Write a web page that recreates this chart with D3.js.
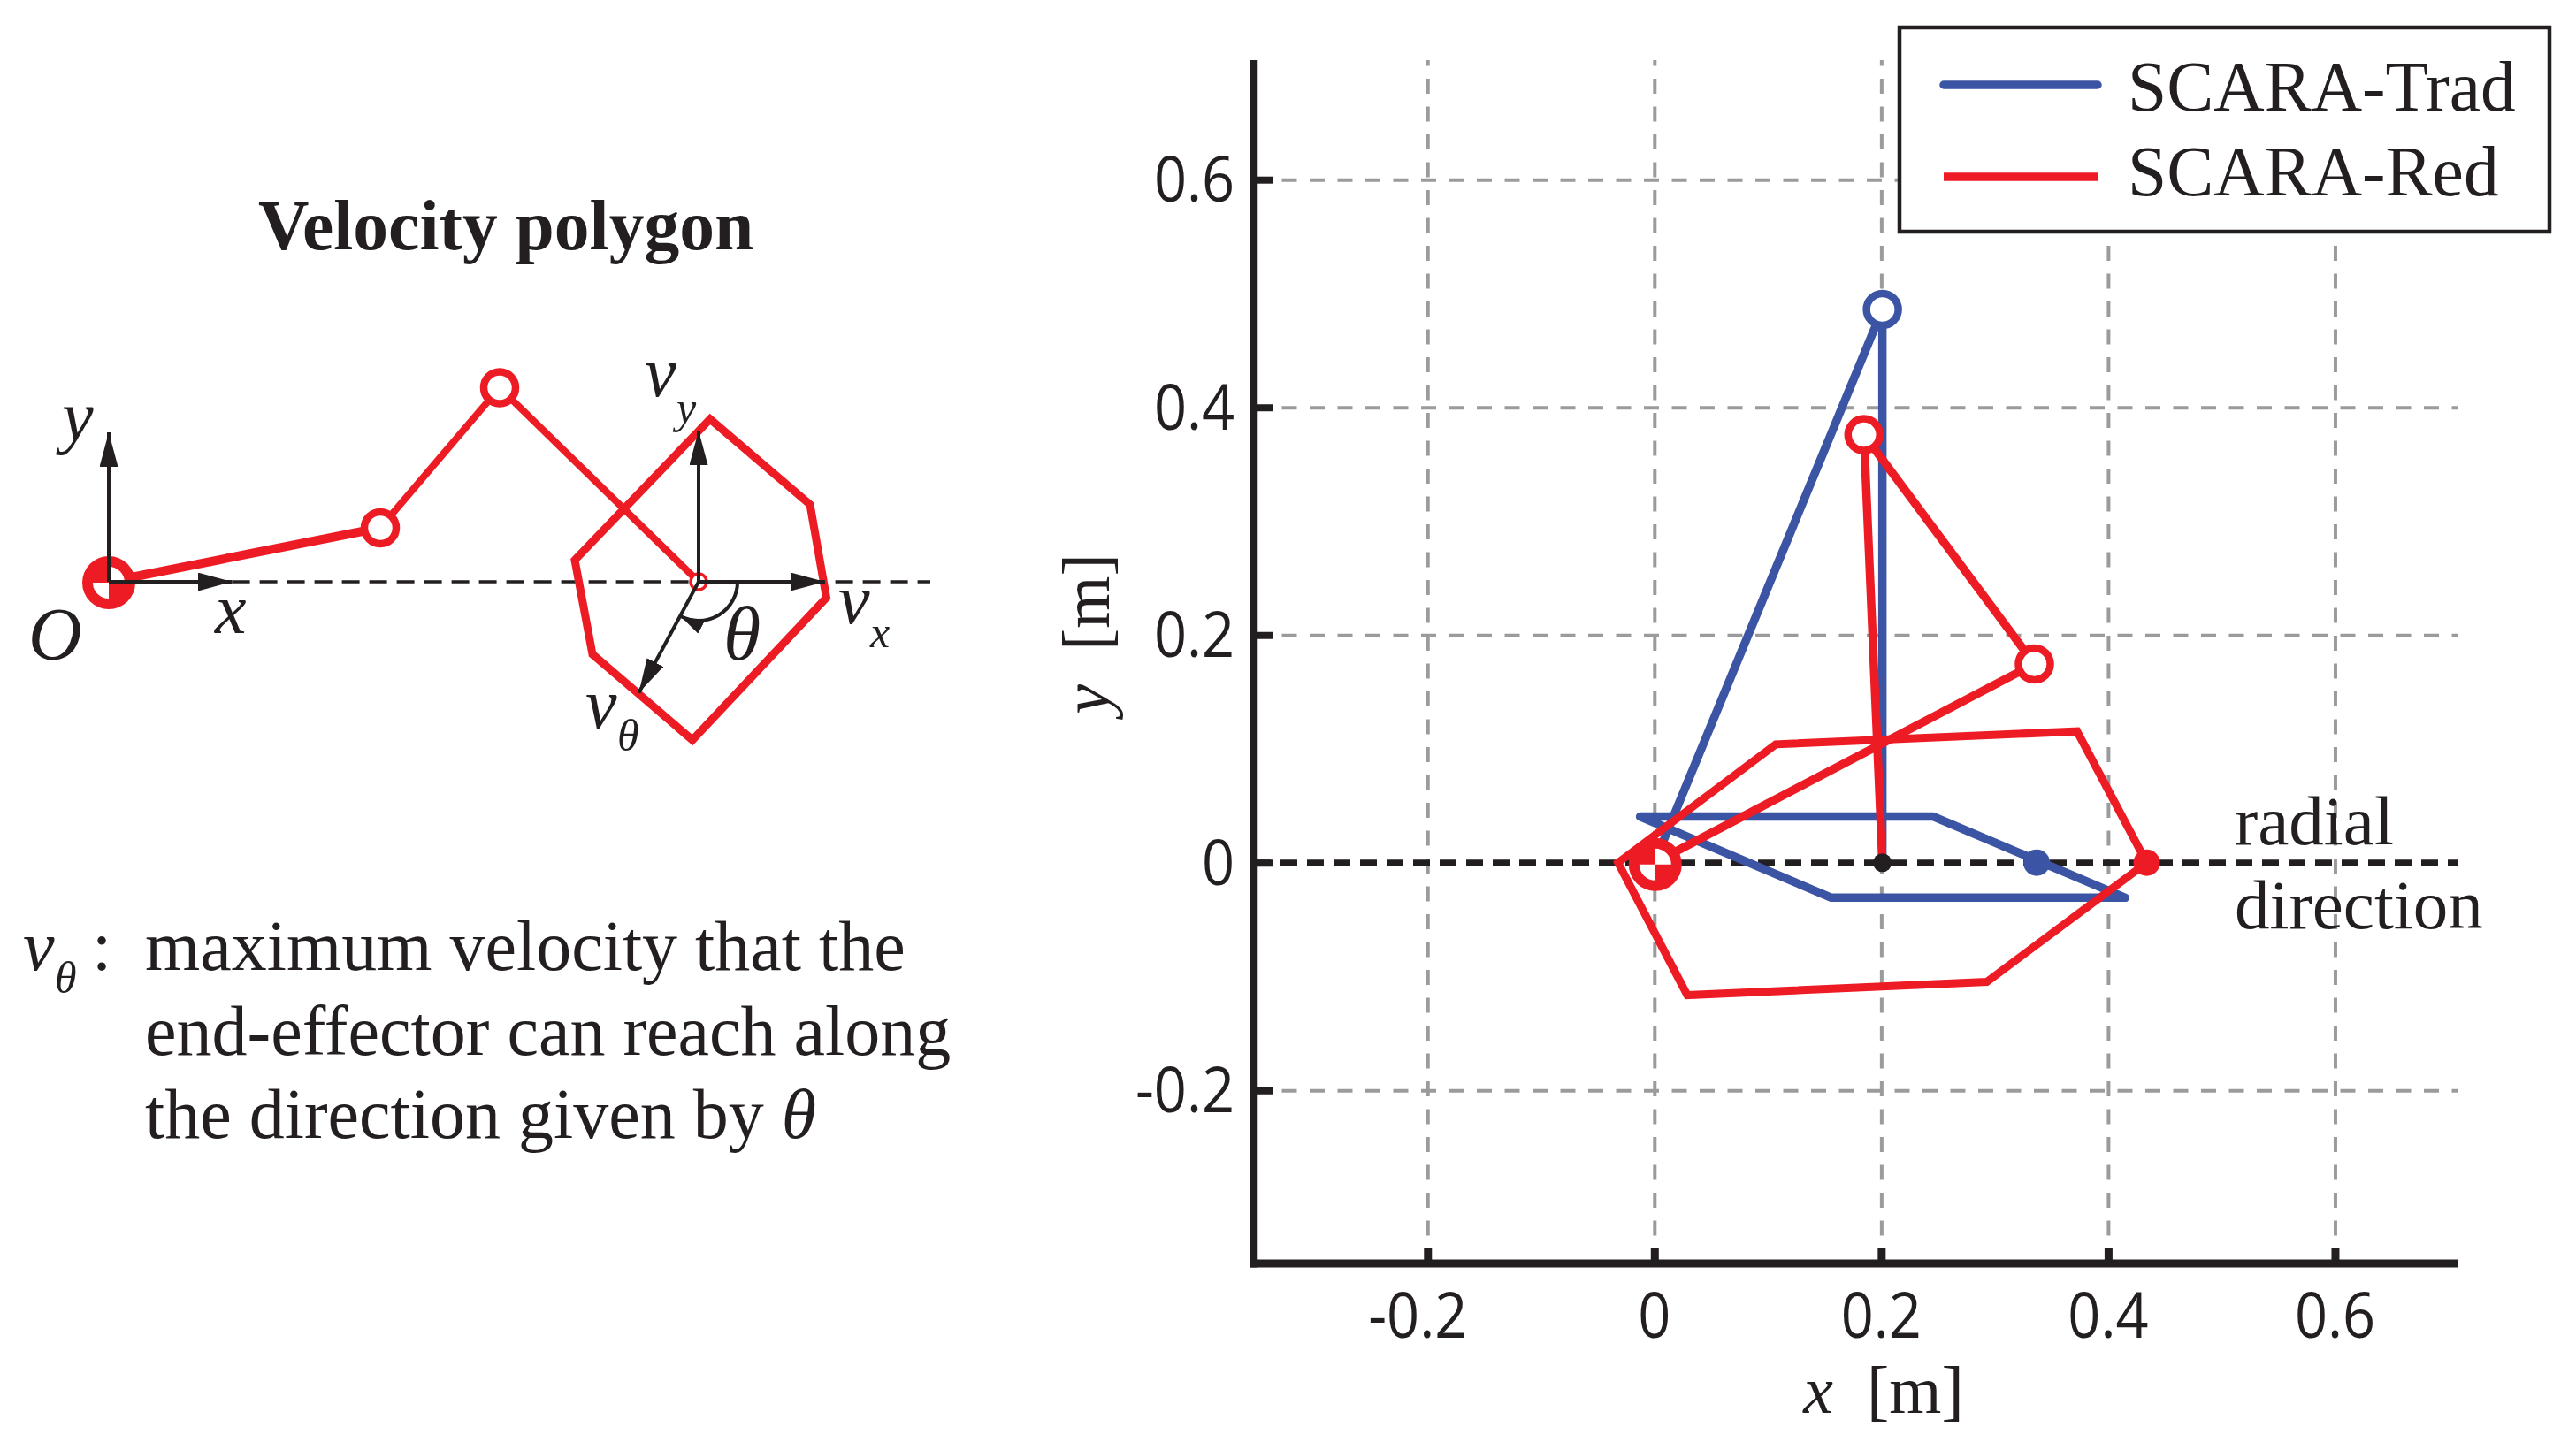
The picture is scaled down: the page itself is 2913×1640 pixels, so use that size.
<!DOCTYPE html>
<html>
<head>
<meta charset="utf-8">
<script src="https://cdnjs.cloudflare.com/ajax/libs/d3/7.8.5/d3.min.js"></script>
<style>
  body { margin: 0; background: #fff; }
  text { fill: #231F20; font-family: "Liberation Serif", serif; }
  .tick-label { font-family: "Open Sans", sans-serif; }
</style>
</head>
<body>
<svg id="fig" width="2913" height="1640"></svg>
<script>
// ---- data ----
var xTicks = [-0.2, 0, 0.2, 0.4, 0.6];
var yTicks = [-0.2, 0, 0.2, 0.4, 0.6];
var legendNames = ["SCARA-Trad", "SCARA-Red"];

// right plot, metres
var tradArm = [[0, 0], [0.201, 0.486], [0.201, 0]];
var tradPolygon = [[-0.0126, 0.0405], [0.246, 0.0405], [0.415, -0.0307], [0.156, -0.0307]];
var tradRadial = [0.337, 0];
var redArm = [[0, 0], [0.335, 0.1746], [0.1847, 0.376], [0.201, 0]];
var redPolygon = [[-0.032, 0], [0.107, 0.104], [0.3726, 0.1154], [0.434, 0], [0.293, -0.1047], [0.029, -0.1163]];
var redRadial = [0.434, 0];
var endEffector = [0.201, 0];

// left sketch, arbitrary units
var sketchArm = [[0, 0], [0.307, 0.061], [0.442, 0.2195], [0.667, 0]];
var sketchPolygon = [[0.68, 0.184], [0.793, 0.0874], [0.8115, -0.018], [0.66, -0.179], [0.547, -0.082], [0.527, 0.0245]];
var sketchDashEnd = 0.929;
var sketchAxes = [[[0, 0], [0.1396, 0]], [[0, 0], [0, 0.169]]];
var sketchVel = [[[0.667, 0], [0.81, 0]], [[0.667, 0], [0.667, 0.171]], [[0.667, 0], [0.5994, -0.1255]]];
var thetaDeg = 118;

var paragraph = ["maximum velocity that the", "end-effector can reach along", "the direction given by "];

// ---- setup ----
var RED = "#ED1C24", BLUE = "#3B54A4", INK = "#231F20", GREY = "#9B9B9D";
var svg = d3.select("#fig");

var x = d3.scaleLinear().domain([-0.353, 0.708]).range([1418, 2779]);
var y = d3.scaleLinear().domain([-0.352, 0.705]).range([1429, 68]);
var lx = d3.scaleLinear().domain([0, 1]).range([123, 1123]);
var ly = d3.scaleLinear().domain([0, 1]).range([658, -342]);

var defs = svg.append("defs");
function arrowHead(id, len, h) {
  defs.append("marker").attr("id", id).attr("markerUnits", "userSpaceOnUse")
    .attr("markerWidth", len).attr("markerHeight", h)
    .attr("refX", len).attr("refY", h / 2).attr("orient", "auto")
    .append("path").attr("d", "M0,0L" + len + "," + (h / 2) + "L0," + h + "Z").attr("fill", INK);
}
arrowHead("arrow", 39, 21);
arrowHead("arrowSmall", 27, 16);

function label(parts, px, py, size, anchor) {
  var t = svg.append("text").attr("x", px).attr("y", py).attr("font-size", size)
    .attr("text-anchor", anchor || "start");
  parts.forEach(function (p) {
    t.append("tspan").attr("font-style", p[1] ? "italic" : "normal").text(p[0]);
  });
  return t;
}

function baseMark(cx, cy) {
  var g = svg.append("g").attr("transform", "translate(" + cx + "," + cy + ")");
  g.append("circle").attr("r", 30).attr("fill", RED);
  var wedge = d3.arc().innerRadius(0).outerRadius(18);
  [[0, Math.PI / 2], [Math.PI, Math.PI * 1.5]].forEach(function (a) {
    g.append("path").attr("d", wedge({ startAngle: a[0], endAngle: a[1] })).attr("fill", "#fff");
  });
}

function joint(cx, cy, color) {
  svg.append("circle").attr("cx", cx).attr("cy", cy).attr("r", 18)
    .attr("fill", "#fff").attr("stroke", color).attr("stroke-width", 8.5);
}

// ---- right plot ----
var line = d3.line().x(function (d) { return x(d[0]); }).y(function (d) { return y(d[1]); });
var loop = d3.line().x(function (d) { return x(d[0]); }).y(function (d) { return y(d[1]); }).curve(d3.curveLinearClosed);

// grid
var gridX = svg.append("g").attr("transform", "translate(0," + y.range()[0] + ")")
  .call(d3.axisBottom(x).tickValues(xTicks).tickSize(y.range()[1] - y.range()[0]).tickFormat(""));
gridX.select(".domain").remove();
gridX.selectAll("line").attr("stroke", GREY).attr("stroke-width", 4).attr("stroke-dasharray", "17 14.5");
var gridY = svg.append("g").attr("transform", "translate(" + x.range()[0] + ",0)")
  .call(d3.axisLeft(y).tickValues(yTicks.filter(function (v) { return v !== 0; })).tickSize(x.range()[0] - x.range()[1]).tickFormat(""));
gridY.select(".domain").remove();
gridY.selectAll("line").attr("stroke", GREY).attr("stroke-width", 4).attr("stroke-dasharray", "17 14.5");

// radial direction
svg.append("path").attr("d", line([[x.domain()[0], 0], [x.domain()[1], 0]]))
  .attr("stroke", INK).attr("stroke-width", 7).attr("stroke-dasharray", "19 11").attr("fill", "none");

// axes
var xAxis = svg.append("g").attr("transform", "translate(0," + y.range()[0] + ")")
  .call(d3.axisTop(x).tickValues(xTicks).tickSize(18).tickFormat(""));
xAxis.select(".domain").remove();
xAxis.selectAll("line").attr("stroke", INK).attr("stroke-width", 9);
var yAxis = svg.append("g").attr("transform", "translate(" + x.range()[0] + ",0)")
  .call(d3.axisRight(y).tickValues(yTicks).tickSize(22).tickFormat(""));
yAxis.select(".domain").remove();
yAxis.selectAll("line").attr("stroke", INK).attr("stroke-width", 8);
svg.append("line").attr("x1", x.range()[0]).attr("x2", x.range()[0]).attr("y1", y.range()[1]).attr("y2", y.range()[0] + 4.5)
  .attr("stroke", INK).attr("stroke-width", 8.5);
svg.append("line").attr("x1", x.range()[0] - 4).attr("x2", x.range()[1]).attr("y1", y.range()[0]).attr("y2", y.range()[0])
  .attr("stroke", INK).attr("stroke-width", 9);

function fmt(v) { return v === 0 ? "0" : String(v); }
function tickText(px, py, v, anchor) {
  var t = svg.append("text").attr("class", "tick-label").attr("x", px).attr("y", py)
    .attr("font-size", 72).attr("text-anchor", anchor).text(fmt(v));
  // the original digits are narrower than Open Sans
  t.attr("textLength", t.node().getComputedTextLength() * 0.9).attr("lengthAdjust", "spacingAndGlyphs");
}
xTicks.forEach(function (v) { tickText(x(v) - (v < 0 ? 11 : 0), 1513, v, "middle"); });
yTicks.forEach(function (v) { tickText(1396, y(v) + 25, v, "end"); });

label([["x", true], ["\u00a0\u00a0[m]", false]], 2130, 1598, 76, "middle");
label([["y", true], ["\u00a0\u00a0[m]", false]], 0, 0, 76, "middle")
  .attr("transform", "translate(1254,717) rotate(-90)");

// SCARA-Trad
svg.append("path").attr("d", loop(tradPolygon)).attr("fill", "none").attr("stroke", BLUE)
  .attr("stroke-width", 9.5).attr("stroke-linejoin", "round");
svg.append("path").attr("d", line(tradArm)).attr("fill", "none").attr("stroke", BLUE)
  .attr("stroke-width", 9.5).attr("stroke-linejoin", "round");
joint(x(tradArm[1][0]), y(tradArm[1][1]), BLUE);
svg.append("circle").attr("cx", x(tradRadial[0])).attr("cy", y(tradRadial[1])).attr("r", 15).attr("fill", BLUE);

// SCARA-Red
svg.append("path").attr("d", loop(redPolygon)).attr("fill", "none").attr("stroke", RED).attr("stroke-width", 9);
svg.append("path").attr("d", line(redArm)).attr("fill", "none").attr("stroke", RED).attr("stroke-width", 9.5);
joint(x(redArm[1][0]), y(redArm[1][1]), RED);
joint(x(redArm[2][0]), y(redArm[2][1]), RED);
svg.append("circle").attr("cx", x(redRadial[0])).attr("cy", y(redRadial[1])).attr("r", 15).attr("fill", RED);
svg.append("circle").attr("cx", x(endEffector[0])).attr("cy", y(endEffector[1])).attr("r", 10.5).attr("fill", INK);
baseMark(x(0) + 1, y(0) + 2);

label([["radial", false]], 2527, 955, 79);
label([["direction", false]], 2527, 1050, 79);

// legend
svg.append("rect").attr("x", 2148).attr("y", 31).attr("width", 735).attr("height", 231)
  .attr("fill", "#fff").attr("stroke", INK).attr("stroke-width", 4.5);
[BLUE, RED].forEach(function (c, i) {
  var ly0 = [96, 200][i];
  svg.append("line").attr("x1", 2198).attr("x2", 2372).attr("y1", ly0).attr("y2", ly0)
    .attr("stroke", c).attr("stroke-width", 9.5).attr("stroke-linecap", i === 0 ? "round" : "butt");
  label([[legendNames[i], false]], 2406, [125, 221][i], 79.5);
});

// ---- left sketch ----
var lline = d3.line().x(function (d) { return lx(d[0]); }).y(function (d) { return ly(d[1]); });
var lloop = d3.line().x(function (d) { return lx(d[0]); }).y(function (d) { return ly(d[1]); }).curve(d3.curveLinearClosed);

label([["Velocity polygon", false]], 572, 282, 79.5, "middle").attr("font-weight", "bold");

svg.append("path").attr("d", lline([sketchAxes[0][1], [sketchDashEnd, 0]])).attr("fill", "none")
  .attr("stroke", INK).attr("stroke-width", 3.5).attr("stroke-dasharray", "20 11");

svg.append("path").attr("d", lloop(sketchPolygon)).attr("fill", "none").attr("stroke", RED).attr("stroke-width", 9);
[10, 8, 8].forEach(function (w, i) {
  svg.append("path").attr("d", lline(sketchArm.slice(i, i + 2))).attr("fill", "none").attr("stroke", RED).attr("stroke-width", w);
});
baseMark(lx(0), ly(0) + 1);
joint(lx(sketchArm[1][0]), ly(sketchArm[1][1]), RED);
joint(lx(sketchArm[2][0]), ly(sketchArm[2][1]), RED);
svg.append("circle").attr("cx", lx(sketchArm[3][0])).attr("cy", ly(sketchArm[3][1])).attr("r", 9)
  .attr("fill", "#fff").attr("stroke", RED).attr("stroke-width", 3.5);

sketchAxes.concat(sketchVel).forEach(function (seg) {
  svg.append("path").attr("d", lline(seg)).attr("fill", "none").attr("stroke", INK)
    .attr("stroke-width", 4).attr("marker-end", "url(#arrow)");
});

// theta arc
var arcPath = d3.path();
arcPath.arc(lx(sketchArm[3][0]), ly(sketchArm[3][1]), 44, 0, thetaDeg * Math.PI / 180, false);
svg.append("path").attr("d", arcPath.toString()).attr("fill", "none").attr("stroke", INK)
  .attr("stroke-width", 4).attr("marker-end", "url(#arrowSmall)");

label([["y", true]], 70, 498, 80);
label([["x", true]], 243, 716, 80);
label([["O", true]], 32, 746, 84);
label([["v", true]], 729, 448, 80);
label([["y", true]], 765, 478, 50);
label([["v", true]], 948, 705, 80);
label([["x", true]], 984, 732, 50);
label([["\u03b8", true]], 818, 746, 86);
label([["v", true]], 662, 823, 80);
label([["\u03b8", true]], 698, 849, 50);

// note under the sketch
label([["v", true]], 26, 1097, 80);
label([["\u03b8", true]], 62, 1123, 50);
label([[":", false]], 104, 1097, 80);
label([[paragraph[0], false]], 164, 1097, 80);
label([[paragraph[1], false]], 164, 1193, 80);
label([[paragraph[2], false], ["\u03b8", true]], 164, 1287, 80);
</script>
</body>
</html>
